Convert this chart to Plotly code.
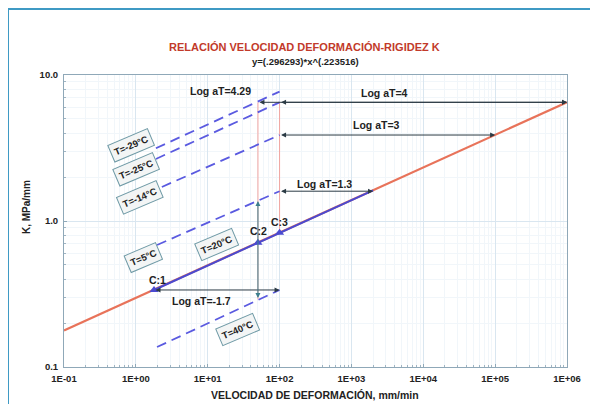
import numpy as np
import plotly.graph_objects as go

# ---------------- data ----------------
# master curve y=(.296293)*x^(.223516)
master_x = [0.1, 1e6]
master_y = [0.178, 6.5]
# measured segment at reference temperature (blue)
t20_x = [1.79, 2000]
t20_y = [0.337, 1.62]

# dashed isotherms (start/end)
temp_labels = ["T=-29°C", "T=-25°C", "T=-14°C", "T=5°C", "T=40°C"]
dash_x0 = [1.9, 1.9, 2.3, 1.97, 1.97]
dash_x1 = [100, 100, 100, 100, 100]
dash_y0 = [3.15, 2.66, 1.71, 0.685, 0.137]
dash_y1 = [7.7, 6.5, 3.88, 1.60, 0.337]

# points C
c_labels = ["C:1", "C:2", "C:3"]
c_x = [1.79, 50, 100]
c_y = [0.337, 0.71, 0.83]

# shift arrows
shift_labels = ["Log aT=4.29", "Log aT=4", "Log aT=3", "Log aT=1.3", "Log aT=-1.7"]
shift_from = [50, 100, 100, 100, 1.79]
shift_to = [1e6, 1e6, 1e5, 2000, 100]
shift_y = [6.5, 6.5, 3.88, 1.60, 0.337]

# vertical guides
vguide_x = [50, 100]
vguide_y0 = [0.29, 0.83]
vguide_y1 = [6.5, 6.5]
vdim_x = 50
vdim_y = [0.29, 1.37]

x_ticks = [0.1, 1, 10, 100, 1e3, 1e4, 1e5, 1e6]
x_ticktext = ["1E-01", "1E+00", "1E+01", "1E+02", "1E+03", "1E+04", "1E+05", "1E+06"]
y_ticks = [0.1, 1, 10]
y_ticktext = ["0.1", "1.0", "10.0"]

FONT = "Liberation Sans, Arial, sans-serif"
RED = "#e8735a"
BLUE = "#4a4ad0"
DASH = "#5a5ae0"
ARROW = "#2b3a44"
TEAL = "#3d7f8e"

fig = go.Figure()

# pink vertical guides
for vx, a, b in zip(vguide_x, vguide_y0, vguide_y1):
    fig.add_trace(go.Scatter(x=[vx, vx], y=[a, b], mode="lines",
                             line=dict(color="#f2a5a0", width=1), hoverinfo="skip"))

fig.add_trace(go.Scatter(x=master_x, y=master_y, mode="lines",
                         line=dict(color=RED, width=2.2), hoverinfo="skip"))
fig.add_trace(go.Scatter(x=t20_x, y=t20_y, mode="lines",
                         line=dict(color=BLUE, width=2), hoverinfo="skip"))
for x0, x1, y0, y1 in zip(dash_x0, dash_x1, dash_y0, dash_y1):
    fig.add_trace(go.Scatter(x=[x0, x1], y=[y0, y1], mode="lines",
                             line=dict(color=DASH, width=1.8, dash="10px,6px"),
                             hoverinfo="skip"))
fig.add_trace(go.Scatter(x=c_x, y=c_y, mode="markers",
                         marker=dict(symbol="triangle-up", size=8, color=BLUE),
                         hoverinfo="skip"))

L = np.log10
ann = []

# horizontal shift arrows (double headed)
for x0, x1, yv in zip(shift_from, shift_to, shift_y):
    ann.append(dict(x=L(x1), y=L(yv), ax=L(x0), ay=L(yv), xref="x", yref="y",
                    axref="x", ayref="y", text="", showarrow=True,
                    arrowhead=2, startarrowhead=2, arrowside="end+start",
                    arrowsize=1, arrowwidth=1, arrowcolor=ARROW))
# vertical dimension arrow
ann.append(dict(x=L(vdim_x), y=L(vdim_y[1]), ax=L(vdim_x), ay=L(vdim_y[0]),
                xref="x", yref="y", axref="x", ayref="y", text="", showarrow=True,
                arrowhead=2, startarrowhead=2, arrowside="end+start",
                arrowsize=1, arrowwidth=1, arrowcolor=TEAL))

# shift labels positions (log units)
shift_pos = [(1.18, 0.89), (3.46, 0.877), (3.35, 0.658), (2.63, 0.253), (0.915, -0.548)]
for t, (px, py) in zip(shift_labels, shift_pos):
    ann.append(dict(x=px, y=py, xref="x", yref="y", text="<b>" + t + "</b>",
                    showarrow=False, xanchor="center", yanchor="middle",
                    font=dict(family=FONT, size=10.5, color="#222")))

# C labels
c_pos = [(0.30, -0.404), (1.71, -0.068), (2.00, -0.007)]
for t, (px, py) in zip(c_labels, c_pos):
    ann.append(dict(x=px, y=py, xref="x", yref="y", text="<b>" + t + "</b>",
                    showarrow=False, xanchor="center", yanchor="middle",
                    font=dict(family=FONT, size=10.5, color="#222")))

# temperature boxes
box_labels = temp_labels[:4] + ["T=20°C", temp_labels[4]]
box_pos = [(-0.074, 0.52), (-0.004, 0.356), (0.052, 0.158), (0.107, -0.253),
           (1.124, -0.158), (1.416, -0.74)]
for t, (px, py) in zip(box_labels, box_pos):
    ann.append(dict(x=px, y=py, xref="x", yref="y", text="<b>" + t + "</b>",
                    showarrow=False, textangle=-23, xanchor="center", yanchor="middle",
                    font=dict(family=FONT, size=9.5, color="#222"),
                    bordercolor="#6f9aa6", borderwidth=1, borderpad=3,
                    bgcolor="#f3f5f5"))

# titles (paper coordinates relative to the plot area)
def px_x(p):
    return (p - 64) / 503


def px_y(p):
    return (367 - p) / 292


ann.append(dict(x=px_x(304), y=px_y(47), xref="paper", yref="paper",
                xanchor="center", yanchor="middle",
                text="<b>RELACIÓN VELOCIDAD DEFORMACIÓN-RIGIDEZ K</b>", showarrow=False,
                font=dict(family=FONT, size=11, color="#c23a2a")))
ann.append(dict(x=px_x(305), y=px_y(62), xref="paper", yref="paper",
                xanchor="center", yanchor="middle",
                text="<b>y=(.296293)*x^(.223516)</b>", showarrow=False,
                font=dict(family=FONT, size=9.5, color="#222")))
ann.append(dict(x=px_x(26), y=px_y(207), xref="paper", yref="paper",
                xanchor="center", yanchor="middle",
                text="<b>K, MPa/mm</b>", showarrow=False, textangle=-90,
                font=dict(family=FONT, size=10, color="#222")))
ann.append(dict(x=px_x(315), y=px_y(395), xref="paper", yref="paper",
                xanchor="center", yanchor="middle",
                text="<b>VELOCIDAD DE DEFORMACIÓN, mm/min</b>", showarrow=False,
                font=dict(family=FONT, size=10.5, color="#222")))

# outer frame
shapes = [dict(type="rect", xref="paper", yref="paper",
               x0=px_x(8), x1=px_x(640), y0=px_y(440), y1=px_y(9),
               line=dict(color="#3f9ac4", width=2), fillcolor="rgba(0,0,0,0)",
               layer="below")]

# page has an 8px body margin: figure is placed at (8, 8)
fig.update_layout(
    width=590, height=396,
    margin=dict(l=56, r=31, t=67, b=37),
    paper_bgcolor="white", plot_bgcolor="white",
    showlegend=False,
    annotations=ann, shapes=shapes,
    xaxis=dict(type="log", range=[-1, 6], tickvals=x_ticks,
               ticktext=["<b>" + t + "</b>" for t in x_ticktext],
               tickfont=dict(family=FONT, size=9.5, color="#222"),
               ticklabelstandoff=3,
               showline=True, mirror=True, linecolor="#8fa8b8", linewidth=1,
               showgrid=True, gridcolor="#d9e6f0", gridwidth=1,
               ticks="inside", ticklen=3, tickcolor="#8fa8b8",
               minor=dict(showgrid=True, gridcolor="#f1f6fa", ticks="inside",
                          dtick="D1", ticklen=2, tickcolor="#9fb4c2"),
               zeroline=False),
    yaxis=dict(type="log", range=[-1, 1], tickvals=y_ticks,
               ticktext=["<b>" + t + "</b>" for t in y_ticktext],
               tickfont=dict(family=FONT, size=9.5, color="#222"),
               ticklabelstandoff=3,
               showline=True, mirror=True, linecolor="#8fa8b8", linewidth=1,
               showgrid=True, gridcolor="#d9e6f0", gridwidth=1,
               ticks="inside", ticklen=3, tickcolor="#8fa8b8",
               minor=dict(showgrid=True, gridcolor="#f1f6fa", ticks="inside",
                          dtick="D1", ticklen=2, tickcolor="#9fb4c2"),
               zeroline=False),
)

fig.write_html("out.html")
